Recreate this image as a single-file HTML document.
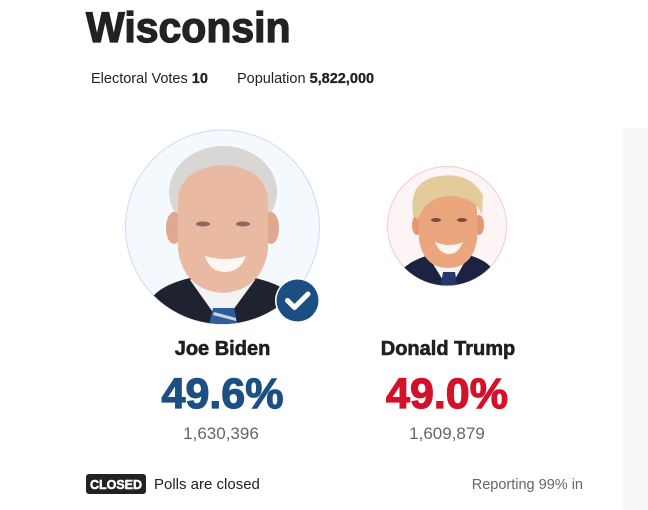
<!DOCTYPE html>
<html>
<head>
<meta charset="utf-8">
<style>
  html,body{margin:0;padding:0;background:#fff;}
  body{width:648px;height:510px;position:relative;overflow:hidden;font-family:"Liberation Sans",Arial,sans-serif;color:#222;}
  .a{position:absolute;white-space:nowrap;}
  .c{text-align:center;width:200px;}
</style>
</head>
<body>
<div class="a" style="left:623px;top:128px;width:25px;height:382px;background:#f6f7f9;"></div>

<div class="a" style="left:86px;top:6.6px;font-size:43px;line-height:43px;font-weight:bold;color:#222;-webkit-text-stroke:1.3px #222;transform:scaleX(0.953);transform-origin:0 0;">Wisconsin</div>

<div class="a" style="left:91px;top:71.7px;font-size:14.5px;line-height:14.5px;color:#222;">Electoral Votes <b style="-webkit-text-stroke:0.3px #222;">10</b></div>
<div class="a" style="left:237px;top:71.7px;font-size:14.5px;line-height:14.5px;color:#222;">Population <b style="-webkit-text-stroke:0.3px #222;">5,822,000</b></div>

<svg class="a" style="left:0;top:0;" width="648" height="510" viewBox="0 0 648 510">
  <defs>
    <clipPath id="cb"><circle cx="222.5" cy="227" r="97"/></clipPath>
    <clipPath id="ct"><circle cx="447" cy="226" r="59.5"/></clipPath>
  </defs>
  <!-- Biden -->
  <circle cx="222.5" cy="227" r="97" fill="#f4f9fe" stroke="#cfdcea" stroke-width="1"/>
  <g clip-path="url(#cb)">
    <path d="M140 330 L150 300 Q160 285 190 278 L255 278 Q285 285 298 300 L310 330 Z" fill="#1f2330"/>
    <path d="M190 280 L222 325 L255 280 L245 272 L200 272 Z" fill="#f3f3f3"/>
    <path d="M213 308 L234 308 L238 325 L209 325 Z" fill="#2f5d9a"/>
    <path d="M214 312 L236 318 L236 321 L213 315 Z" fill="#c9d6ea"/>
    <ellipse cx="223" cy="192" rx="54" ry="46" fill="#d9d6d3"/>
    <ellipse cx="174" cy="228" rx="8" ry="16" fill="#e0a88e"/>
    <ellipse cx="271" cy="228" rx="8" ry="16" fill="#e0a88e"/>
    <path d="M178 200 Q180 168 223 165 Q266 168 268 200 L268 250 Q262 290 223 293 Q184 290 178 250 Z" fill="#eab9a2"/>
    <ellipse cx="203" cy="224" rx="7" ry="2.5" fill="#8a6a64"/>
    <ellipse cx="243" cy="224" rx="7" ry="2.5" fill="#8a6a64"/>
    <path d="M205 256 Q225 262 246 256 Q240 272 225 272 Q210 272 205 256 Z" fill="#fbf7f2"/>
  </g>
  <circle cx="297.5" cy="300.5" r="22.5" fill="#fff"/>
  <circle cx="297.5" cy="300.5" r="21" fill="#1c4f81"/>
  <path d="M287.5 300.5 L294.5 307.5 L308 294" fill="none" stroke="#fff" stroke-width="5" stroke-linecap="round" stroke-linejoin="round"/>

  <!-- Trump -->
  <circle cx="447" cy="226" r="59.5" fill="#fdf4f5" stroke="#f5c8cf" stroke-width="1"/>
  <g clip-path="url(#ct)">
    <path d="M395 300 L400 272 Q410 260 430 255 L468 255 Q488 260 494 272 L500 300 Z" fill="#1c2340"/>
    <path d="M428 256 L449 290 L468 256 Z" fill="#f4f4f4"/>
    <path d="M443 272 L455 272 L458 290 L440 290 Z" fill="#26386a"/>
    <ellipse cx="417" cy="225" rx="5" ry="10" fill="#e39a72"/>
    <ellipse cx="479" cy="225" rx="5" ry="10" fill="#e39a72"/>
    <path d="M419 210 Q420 190 448 188 Q476 190 477 210 L477 240 Q472 268 448 268 Q424 268 419 240 Z" fill="#eca67e"/>
    <path d="M413 215 Q408 180 440 176 Q470 172 483 195 L482 215 Q476 198 452 196 Q425 196 418 220 Z" fill="#e3cc9c"/>
    <ellipse cx="436" cy="220" rx="5" ry="2" fill="#7a4c3c"/>
    <ellipse cx="462" cy="220" rx="5" ry="2" fill="#7a4c3c"/>
    <path d="M435 242 Q450 248 463 242 Q458 254 449 254 Q440 254 435 242 Z" fill="#fbf5ef"/>
  </g>
</svg>

<div class="a c" style="left:122.5px;top:339px;font-size:20px;line-height:20px;font-weight:bold;color:#1f1f1f;-webkit-text-stroke:0.6px #1f1f1f;">Joe Biden</div>
<div class="a c" style="left:122.5px;top:372.6px;font-size:43px;line-height:43px;font-weight:bold;color:#1d4f84;-webkit-text-stroke:1.2px #1d4f84;">49.6%</div>
<div class="a c" style="left:121px;top:424.6px;font-size:17px;line-height:17px;color:#666;">1,630,396</div>

<div class="a c" style="left:348px;top:339px;font-size:20px;line-height:20px;font-weight:bold;color:#1f1f1f;-webkit-text-stroke:0.6px #1f1f1f;">Donald Trump</div>
<div class="a c" style="left:347px;top:372.6px;font-size:43px;line-height:43px;font-weight:bold;color:#d3112a;-webkit-text-stroke:1.2px #d3112a;">49.0%</div>
<div class="a c" style="left:347px;top:424.6px;font-size:17px;line-height:17px;color:#666;">1,609,879</div>

<div class="a" style="left:86px;top:474px;width:60px;height:20px;background:#222;border-radius:3px;"></div>
<div class="a" style="left:86px;top:478.5px;width:60px;text-align:center;font-size:12.5px;line-height:12.5px;font-weight:bold;color:#fff;-webkit-text-stroke:0.5px #fff;">CLOSED</div>
<div class="a" style="left:154px;top:477.3px;font-size:15px;line-height:15px;color:#222;">Polls are closed</div>
<div class="a" style="left:383px;top:477.7px;width:200px;text-align:right;font-size:14.5px;line-height:14.5px;color:#666;">Reporting 99% in</div>
</body>
</html>
